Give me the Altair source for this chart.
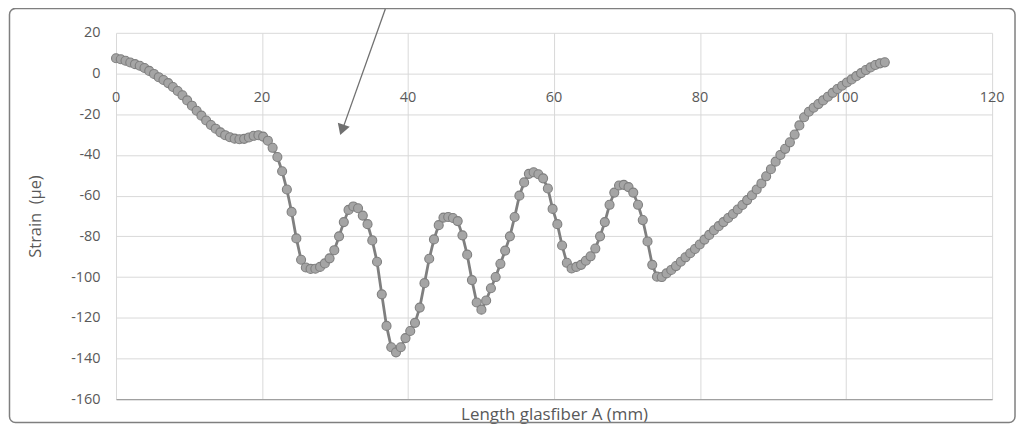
import altair as alt
import pandas as pd

# ---- data ----
length_mm = [
    0.0, 0.65, 1.3, 1.95, 2.6, 3.25, 3.9, 4.55, 5.2, 5.85,
    6.5, 7.15, 7.8, 8.45, 9.1, 9.75, 10.4, 11.05, 11.7, 12.35,
    13.0, 13.65, 14.3, 14.95, 15.6, 16.25, 16.9, 17.55, 18.2, 18.85,
    19.5, 20.15, 20.8, 21.45, 22.1, 22.75, 23.4, 24.05, 24.7, 25.35,
    26.0, 26.65, 27.3, 27.95, 28.6, 29.25, 29.9, 30.55, 31.2, 31.85,
    32.5, 33.15, 33.8, 34.45, 35.1, 35.75, 36.4, 37.05, 37.7, 38.35,
    39.0, 39.65, 40.3, 40.95, 41.6, 42.25, 42.9, 43.55, 44.2, 44.85,
    45.5, 46.15, 46.8, 47.45, 48.1, 48.75, 49.4, 50.05, 50.7, 51.35,
    52.0, 52.65, 53.3, 53.95, 54.6, 55.25, 55.9, 56.55, 57.2, 57.85,
    58.5, 59.15, 59.8, 60.45, 61.1, 61.75, 62.4, 63.05, 63.7, 64.35,
    65.0, 65.65, 66.3, 66.95, 67.6, 68.25, 68.9, 69.55, 70.2, 70.85,
    71.5, 72.15, 72.8, 73.45, 74.1, 74.75, 75.4, 76.05, 76.7, 77.35,
    78.0, 78.65, 79.3, 79.95, 80.6, 81.25, 81.9, 82.55, 83.2, 83.85,
    84.5, 85.15, 85.8, 86.45, 87.1, 87.75, 88.4, 89.05, 89.7, 90.35,
    91.0, 91.65, 92.3, 92.95, 93.6, 94.25, 94.9, 95.55, 96.2, 96.85,
    97.5, 98.15, 98.8, 99.45, 100.1, 100.75, 101.4, 102.05, 102.7, 103.35,
    104.0, 104.65, 105.3,
]

strain = [
    7.5, 7.0, 6.3, 5.4, 4.6, 3.8, 2.7, 1.3, -0.2, -1.8,
    -3.2, -4.7, -6.6, -8.6, -10.7, -13.2, -15.8, -18.3, -20.7, -23.1,
    -25.3, -27.1, -28.9, -30.3, -31.3, -32.0, -32.3, -32.1, -31.4, -30.6,
    -30.3, -31.0, -33.0, -36.5, -41.0, -48.0, -57.0, -68.0, -81.0, -91.5,
    -95.3, -96.0, -95.9, -95.0, -93.3, -90.8, -86.8, -80.0, -73.0, -67.0,
    -65.3, -66.2, -69.8, -74.0, -82.0, -92.5, -108.5, -124.0, -134.5, -137.0,
    -134.5, -130.0, -126.5, -122.5, -115.0, -103.0, -91.0, -81.5, -74.5, -70.8,
    -70.5, -71.0, -72.5, -79.5, -89.0, -101.5, -112.5, -116.0, -111.5, -105.5,
    -100.0, -93.5, -87.0, -80.0, -70.5, -60.0, -53.5, -49.3, -48.5, -49.5,
    -51.5, -56.5, -66.5, -74.0, -84.5, -93.0, -95.8, -95.0, -94.0, -92.0,
    -89.8, -86.0, -80.0, -73.0, -64.5, -58.5, -55.0, -54.7, -55.8, -58.5,
    -64.5, -72.0, -82.5, -94.0, -99.8, -100.0, -98.2, -96.5, -94.6, -92.5,
    -90.3, -88.3, -86.2, -84.0, -81.6, -79.3, -77.0, -75.0, -73.0, -71.0,
    -69.0, -66.8, -64.6, -62.2, -59.8, -57.0, -54.0, -50.5, -47.0, -43.3,
    -40.0, -37.0, -33.8, -30.0, -25.5, -21.5, -18.8, -16.8, -15.0, -13.2,
    -11.4, -9.5, -7.6, -6.0, -4.4, -2.9, -1.3, 0.2, 1.7, 3.0,
    4.2, 5.0, 5.5,
]

x_ticks = [0, 20, 40, 60, 80, 100, 120]
y_ticks = [-160, -140, -120, -100, -80, -60, -40, -20, 0, 20]

x_title = "Length glasfiber A (mm)"
y_title = "Strain\u00a0 (µe)"

FONT = "Open Sans"
LABEL_COLOR = "#595959"

df = pd.DataFrame({"x": length_mm, "y": strain})
ticks_df = pd.DataFrame({"x": x_ticks, "y": [0] * len(x_ticks), "label": [str(v) for v in x_ticks]})

x_scale = alt.Scale(domain=[0, 120], nice=False, zero=False)
y_scale = alt.Scale(domain=[-160, 20], nice=False, zero=False)

base = alt.Chart(df)

line = base.mark_line(color="#7f7f7f", strokeWidth=2.8).encode(
    x=alt.X("x:Q", scale=x_scale,
            axis=alt.Axis(title=x_title, values=x_ticks, labels=False, ticks=False,
                          domain=True, domainColor="#a0a0a0", domainWidth=1.3,
                          grid=True, gridColor="#d9d9d9", gridWidth=1,
                          titleFont=FONT, titleFontSize=17, titleFontWeight="normal",
                          titleColor=LABEL_COLOR, titlePadding=7)),
    y=alt.Y("y:Q", scale=y_scale,
            axis=alt.Axis(title=y_title, values=y_ticks, ticks=False, domain=False,
                          grid=True, gridColor="#d9d9d9", gridWidth=1,
                          labelExpr="'' + datum.value",
                          labelFont=FONT, labelFontSize=14.5, labelColor=LABEL_COLOR,
                          labelPadding=16,
                          titleFont=FONT, titleFontSize=16.5, titleFontWeight="normal",
                          titleColor=LABEL_COLOR, titlePadding=27)),
)

points = base.mark_circle(size=82, fill="#a5a5a5", stroke="#7f7f7f",
                          strokeWidth=1.1, opacity=1).encode(
    x=alt.X("x:Q", scale=x_scale),
    y=alt.Y("y:Q", scale=y_scale),
)

xlabels = alt.Chart(ticks_df).mark_text(
    font=FONT, fontSize=14.5, color=LABEL_COLOR, dy=25, baseline="middle", align="center"
).encode(
    x=alt.X("x:Q", scale=x_scale),
    y=alt.Y("y:Q", scale=y_scale),
    text="label:N",
)

# decorative chart frame (outside the plot area)
frame = alt.Chart(pd.DataFrame({"k": [0]})).mark_rect(
    fill=None, stroke="#7f7f7f", strokeWidth=1.5, cornerRadius=6
).encode(
    x=alt.value(-107), x2=alt.value(903),
    y=alt.value(-24.5), y2=alt.value(391.5),
)

# annotation arrow
arrow_line = alt.Chart(pd.DataFrame({"k": [0]})).mark_rule(
    color="#707070", strokeWidth=1.3
).encode(
    x=alt.value(270.5), x2=alt.value(227.5),
    y=alt.value(-24), y2=alt.value(97),
)
arrow_head = alt.Chart(pd.DataFrame({"k": [0]})).mark_point(
    shape="triangle-down", filled=True, color="#707070", size=160, angle=19, opacity=1
).encode(
    x=alt.value(227.0), y=alt.value(97.5),
)

chart = alt.layer(frame, xlabels, line, points, arrow_line, arrow_head).properties(
    width=880,
    height=368,
    padding={"left": 108.5, "top": 24, "right": 25, "bottom": 24},
    autosize=alt.AutoSizeParams(type="none"),
    background="white",
).configure_view(stroke=None)

chart.save("out.html", embed_options={"renderer": "svg", "actions": False})
